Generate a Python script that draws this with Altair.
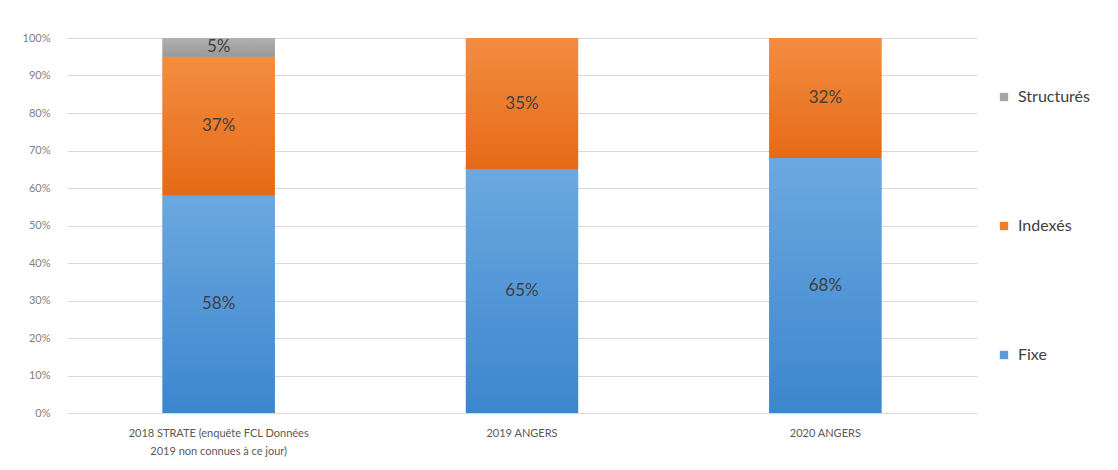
import altair as alt
import pandas as pd

categories = ["2018 STRATE (enquête FCL Données|2019 non connues à ce jour)", "2019 ANGERS", "2020 ANGERS"]
series = ["Fixe", "Indexés", "Structurés"]
fixe = [58, 65, 68]
indexes = [37, 35, 32]
structures = [5, 0, 0]
y_ticks = [0, 10, 20, 30, 40, 50, 60, 70, 80, 90, 100]

rows = []
for i, c in enumerate(categories):
    for s, vals, o in [("Fixe", fixe, 1), ("Indexés", indexes, 2), ("Structurés", structures, 3)]:
        rows.append({"cat": c, "serie": s, "value": vals[i], "ord": o})
df = pd.DataFrame(rows)

color_domain = ["Structurés", "Indexés", "Fixe"]
color_range = ["#A5A5A5", "#ED7D31", "#5B9BD5"]
gradients = {
    "Fixe": ("#6CA8E0", "#3C86CE"),
    "Indexés": ("#F38D42", "#E66A16"),
    "Structurés": ("#B0B0B0", "#999999"),
}

base = alt.Chart(df).transform_stack(
    stack="value", groupby=["cat"], sort=[alt.SortField("ord", order="ascending")], as_=["v0", "v1"]
).transform_calculate(mid="(datum.v0 + datum.v1) / 2", lab="datum.value + '%'")

xaxis = alt.Axis(labelAngle=0, labelExpr="split(datum.label, '|')", labelFontSize=11,
                 labelColor="#595959", domain=False, ticks=False, labelPadding=14,
                 labelFont="Lato", labelLineHeight=18, labelLimit=400)
xscale = alt.Scale(paddingInner=0.63, paddingOuter=0.315)
yaxis = alt.Axis(values=y_ticks, labelExpr="datum.value + '%'", tickCount=11,
                 domain=False, ticks=False, labelPadding=17, labelFontSize=11,
                 labelColor="#7f7f7f", gridColor="#d9d9d9", labelFont="Lato",
                 labelOverlap=False)
yscale = alt.Scale(domain=[0, 100])

bars = base.mark_bar().encode(
    x=alt.X("cat:N", sort=categories, title=None, scale=xscale, axis=xaxis),
    y=alt.Y("v0:Q", title=None, scale=yscale, axis=yaxis),
    y2="v1:Q",
    color=alt.Color("serie:N", scale=alt.Scale(domain=color_domain, range=color_range),
                    legend=alt.Legend(title=None, orient="none", legendX=929, legendY=51,
                                      symbolType="square", symbolSize=70, labelFontSize=16,
                                      labelFont="Lato", labelColor="#404040", rowPadding=113,
                                      symbolStrokeWidth=0, labelOffset=6)),
)

grad_layers = []
for s in series:
    top, bottom = gradients[s]
    grad_layers.append(
        base.transform_filter(alt.datum.serie == s).mark_bar(
            fill=alt.LinearGradient(gradient="linear",
                                    stops=[alt.GradientStop(color=top, offset=0),
                                           alt.GradientStop(color=bottom, offset=1)],
                                    x1=0, x2=0, y1=0, y2=1)
        ).encode(
            x=alt.X("cat:N", sort=categories, title=None, scale=xscale, axis=xaxis),
            y=alt.Y("v0:Q", title=None, scale=yscale, axis=yaxis),
            y2="v1:Q",
        )
    )

texts = base.transform_filter("datum.value > 0").mark_text(fontSize=17, color="#404040", font="Lato").encode(
    x=alt.X("cat:N", sort=categories, title=None, scale=xscale, axis=xaxis),
    y=alt.Y("mid:Q", title=None, scale=yscale, axis=yaxis),
    text="lab:N",
)

chart = alt.layer(bars, *grad_layers, texts).properties(
    width=910, height=375,
    background="white",
    autosize=alt.AutoSizeParams(type="none"),
    padding={"left": 67, "top": 38, "right": 141, "bottom": 57},
).configure_view(stroke=None)

chart.save("out.html", embed_options={"renderer": "svg", "actions": False})
